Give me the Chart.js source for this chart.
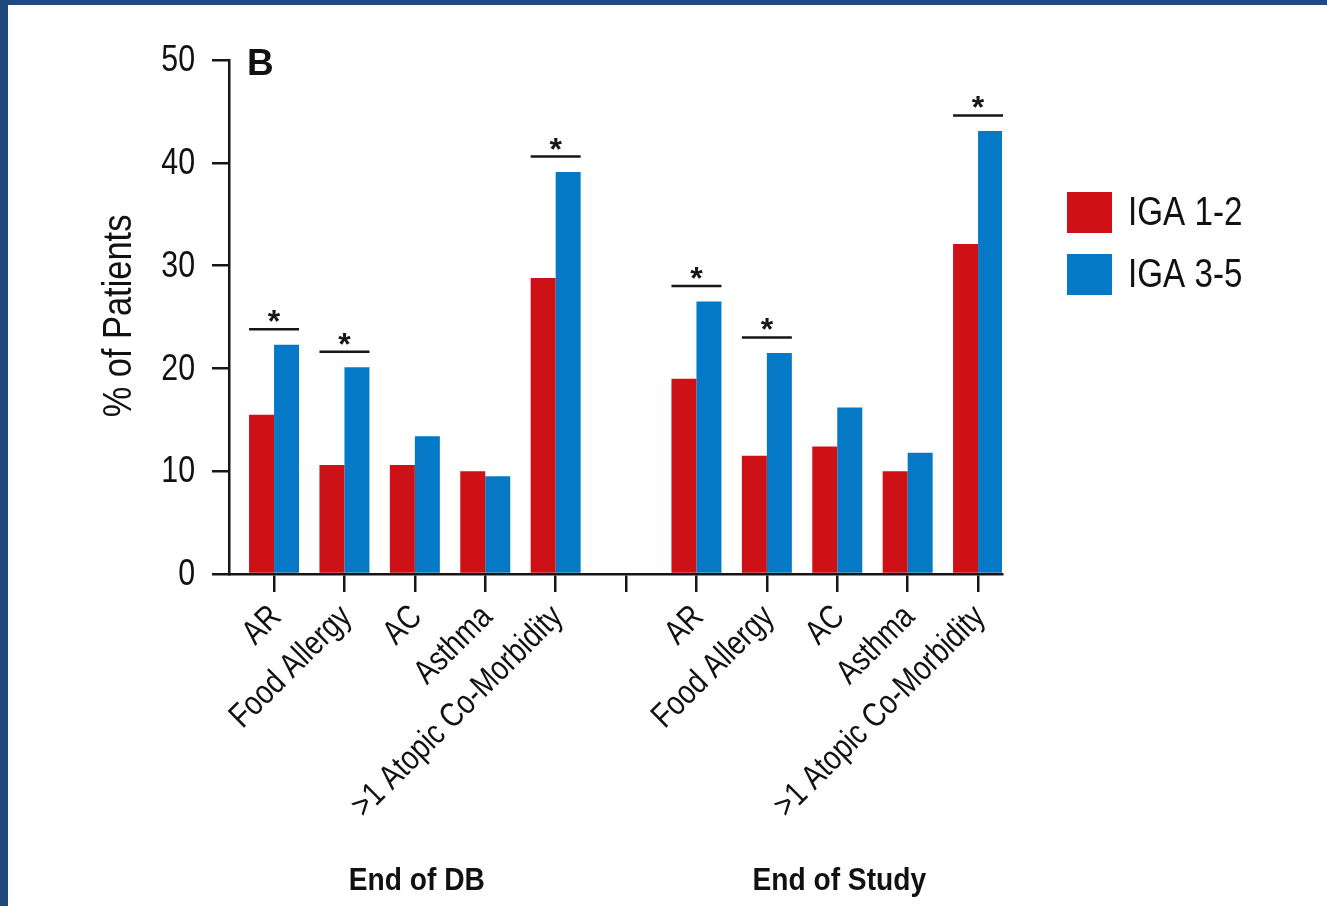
<!DOCTYPE html>
<html>
<head>
<meta charset="utf-8">
<script src="https://cdn.jsdelivr.net/npm/chart.js@4.4.1/dist/chart.umd.min.js"></script>
<style>
  html, body { margin: 0; padding: 0; background: #ffffff; }
  #frame { position: absolute; left: 0; top: 0; width: 1327px; height: 906px; overflow: hidden; }
  #plot { position: absolute; left: 0; top: 0; }
  .edge { position: absolute; background: #1f4a7e; }
</style>
</head>
<body>
<div id="frame">
  <canvas id="plot" width="1327" height="906"></canvas>
  <div class="edge" style="left:0;top:0;width:1327px;height:5px;"></div>
  <div class="edge" style="left:0;top:0;width:8px;height:906px;"></div>
</div>
<script>
// Comorbidities by IGA group, two time points
const categories = ['AR', 'Food Allergy', 'AC', 'Asthma', '>1 Atopic Co-Morbidity'];
const periods = ['End of DB', 'End of Study'];
const seriesNames = ['IGA 1-2', 'IGA 3-5'];

const iga12EndDB = [15.5, 10.6, 10.6, 10.0, 28.8];
const iga35EndDB = [22.3, 20.1, 13.4, 9.5, 39.1];
const iga12EndStudy = [19.0, 11.5, 12.4, 10.0, 32.1];
const iga35EndStudy = [26.5, 21.5, 16.2, 11.8, 43.1];

const significantEndDB = [true, true, false, false, true];
const significantEndStudy = [true, true, false, false, true];

const yTicks = [0, 10, 20, 30, 40, 50];
const panelLetter = 'B';
const yTitle = '% of Patients';

const RED = '#cd1116';
const BLUE = '#0579c6';
const INK = '#161616';
const TEXT = '#111111';
const FACE = "'Liberation Sans', Arial, sans-serif";

// Slot positions: first period at 0..4, an empty slot at 5, second period at 6..10
const groupSize = categories.length;
const slotOf = (period, i) => period * (groupSize + 1) + i;
const slotLabels = [];
periods.forEach((p, pi) => {
  categories.forEach((c, i) => { slotLabels[slotOf(pi, i)] = c; });
});
const slotCount = periods.length * (groupSize + 1) - 1;
for (let s = 0; s < slotCount; s++) if (slotLabels[s] === undefined) slotLabels[s] = '';

function toPoints(a, b) {
  return [
    ...a.map((v, i) => ({ x: slotOf(0, i), y: v })),
    ...b.map((v, i) => ({ x: slotOf(1, i), y: v }))
  ];
}
const significant = [...significantEndDB, ...significantEndStudy];

// Text in a condensed look: horizontally squeezed along its own baseline
function condensedText(ctx, text, x, y, opts) {
  ctx.save();
  ctx.translate(x, y);
  if (opts.rotate) ctx.rotate(opts.rotate);
  ctx.scale(opts.squeeze || 0.82, 1);
  ctx.font = opts.font;
  ctx.fillStyle = opts.color || TEXT;
  ctx.textAlign = opts.align || 'left';
  ctx.textBaseline = opts.baseline || 'middle';
  ctx.fillText(text, 0, 0);
  ctx.restore();
}

const annotations = {
  id: 'annotations',
  afterDatasetsDraw(chart) {
    const ctx = chart.ctx;
    const lo = chart.getDatasetMeta(0);
    const hi = chart.getDatasetMeta(1);
    ctx.save();
    significant.forEach((sig, k) => {
      if (!sig) return;
      const a = lo.data[k], b = hi.data[k];
      const x0 = a.x - a.width / 2;
      const x1 = b.x + b.width / 2;
      const top = Math.min(a.y, b.y) - 15.5;
      ctx.strokeStyle = INK;
      ctx.lineWidth = 2.5;
      ctx.beginPath();
      ctx.moveTo(x0, top);
      ctx.lineTo(x1, top);
      ctx.stroke();
      ctx.font = "bold 32px " + FACE;
      ctx.fillStyle = INK;
      ctx.textAlign = 'center';
      ctx.textBaseline = 'alphabetic';
      const m = ctx.measureText('*');
      const cy = top - 13;
      ctx.fillText('*', (x0 + x1) / 2, cy + (m.actualBoundingBoxAscent - m.actualBoundingBoxDescent) / 2);
    });
    ctx.restore();
  },
  afterDraw(chart) {
    const ctx = chart.ctx;
    const area = chart.chartArea;
    const xs = chart.scales.x;
    const ys = chart.scales.y;

    // y tick labels
    ys.ticks.forEach(t => {
      condensedText(ctx, String(t.value), area.left - 34, ys.getPixelForValue(t.value) + 1,
        { font: "37px " + FACE, align: 'right', squeeze: 0.82 });
    });

    // x tick labels, rotated 45 degrees and ending below their tick
    xs.ticks.forEach(t => {
      const label = slotLabels[t.value];
      if (!label) return;
      condensedText(ctx, label, xs.getPixelForValue(t.value) + 2, area.bottom + 38,
        { font: "34px " + FACE, align: 'right', rotate: -Math.PI / 4, squeeze: 0.82 });
    });

    // panel letter
    ctx.save();
    ctx.fillStyle = TEXT;
    ctx.font = "bold 37px " + FACE;
    ctx.textAlign = 'left';
    ctx.textBaseline = 'alphabetic';
    ctx.fillText(panelLetter, area.left + 18, area.top + 15);
    ctx.restore();

    // y axis title
    condensedText(ctx, yTitle, 120, (area.top + area.bottom) / 2 - 1,
      { font: "40px " + FACE, align: 'center', rotate: -Math.PI / 2, squeeze: 0.86 });

    // group captions under each block of bars
    periods.forEach((p, pi) => {
      const mid = xs.getPixelForValue(slotOf(pi, (groupSize - 1) / 2));
      condensedText(ctx, p, mid + 2, 881,
        { font: "bold 32px " + FACE, align: 'center', squeeze: 0.88 });
    });

    // legend
    const colors = [RED, BLUE];
    seriesNames.forEach((name, i) => {
      const y = 192 + i * 62;
      ctx.save();
      ctx.fillStyle = colors[i];
      ctx.fillRect(1067, y, 45, 41);
      ctx.restore();
      condensedText(ctx, name, 1128, y + 22, { font: "40px " + FACE, squeeze: 0.83 });
    });
  }
};

new Chart(document.getElementById('plot'), {
  type: 'bar',
  data: {
    datasets: [
      { label: seriesNames[0], data: toPoints(iga12EndDB, iga12EndStudy), backgroundColor: RED, borderWidth: 0 },
      { label: seriesNames[1], data: toPoints(iga35EndDB, iga35EndStudy), backgroundColor: BLUE, borderWidth: 0 }
    ]
  },
  options: {
    responsive: false,
    animation: false,
    devicePixelRatio: 1,
    layout: { padding: { top: 60, right: 325, left: 0, bottom: 0 } },
    datasets: { bar: { categoryPercentage: 0.71, barPercentage: 1.0 } },
    plugins: { legend: { display: false }, tooltip: { enabled: false } },
    scales: {
      x: {
        type: 'linear',
        min: -0.64,
        max: 10.34,
        offset: false,
        afterBuildTicks(scale) {
          scale.ticks = slotLabels.map((_, i) => ({ value: i }));
        },
        afterFit(scale) { scale.height = 332; },
        grid: { offset: false, drawOnChartArea: false, drawTicks: true, tickLength: 18, color: INK, lineWidth: 2.5 },
        border: { display: true, color: INK, width: 2.5 },
        ticks: { display: false, autoSkip: false }
      },
      y: {
        min: 0,
        max: 50,
        afterBuildTicks(scale) {
          scale.ticks = yTicks.map(v => ({ value: v }));
        },
        afterFit(scale) { scale.width = 229; },
        grid: { drawOnChartArea: false, drawTicks: true, tickLength: 17, color: INK, lineWidth: 2.5 },
        border: { display: true, color: INK, width: 2.5 },
        ticks: { display: false }
      }
    }
  },
  plugins: [annotations]
});
</script>
</body>
</html>
